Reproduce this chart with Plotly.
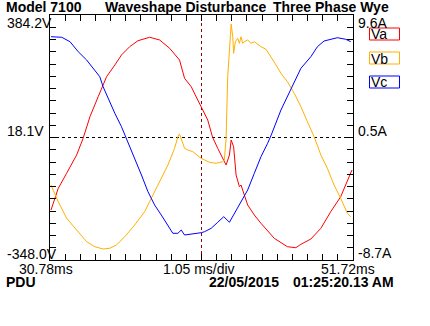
import plotly.graph_objects as go

# ---- data (time in ms, voltage in V) ----
x_min, x_max = 30.78, 51.72
y_min, y_max = -348.0, 384.2
y_mid = 18.1

va_t = [30.85, 31.35, 31.93, 32.62, 33.07, 33.54, 34.11, 34.69, 35.26, 35.72, 36.29, 36.86,
        37.67, 38.36, 39.05, 39.73, 40.08, 40.54, 40.99, 41.18, 41.34, 41.68, 42.01, 42.37,
        42.72, 42.95, 43.18, 43.30, 43.47, 43.64, 43.87, 43.98, 44.44, 44.90, 45.36, 46.28,
        47.19, 47.77, 48.12, 48.81, 49.50, 50.18, 50.87, 51.44, 51.65]
va_v = [-198.6, -133.7, -88.9, -34.2, 15.7, 80.3, 140.0, 199.8, 234.8, 264.7, 289.5, 307.4,
        317.6, 309.5, 284.7, 249.7, 195.0, 169.9, 130.2, 115.2, 100.3, 70.4, 19.6, -14.2,
        -44.1, -64.1, -34.2, 10.6, -9.4, -94.0, -128.9, -123.9, -183.6, -213.5, -238.3, -283.2,
        -308.3, -311.2, -301.1, -285.2, -253.3, -203.7, -158.8, -103.8, -79.0]

vb_t = [30.85, 31.35, 31.93, 32.62, 33.31, 33.88, 34.45, 34.91, 35.37, 35.95, 36.63, 37.32,
        37.79, 38.36, 38.93, 39.39, 39.62, 39.73, 39.85, 40.08, 40.31, 40.65, 41.23, 41.80,
        42.26, 42.72, 42.83, 42.95, 43.06, 43.18, 43.30, 43.41, 43.47, 43.59, 43.75, 43.87,
        43.98, 44.10, 44.21, 44.44, 44.67, 44.90, 45.36, 45.71, 46.05, 46.40, 46.74, 47.19,
        47.66, 48.12, 48.57, 49.03, 49.50, 49.95, 50.41, 50.87, 51.33, 51.56]
vb_v = [-123.9, -173.8, -223.4, -258.3, -293.3, -308.3, -315.1, -313.0, -303.2, -278.4, -243.4, -203.7,
        -163.6, -114.0, -64.1, -14.2, 20.5, 28.6, 15.7, -14.2, -19.3, -24.3, -44.1, -56.0,
        -59.0, -54.2, -49.1, 16.6, 199.8, 299.6, 357.3, 319.3, 269.7, 304.4, 314.6, 299.6,
        319.3, 299.6, 304.4, 309.5, 299.6, 304.4, 289.5, 281.7, 259.6, 234.8, 210.0, 184.9,
        150.2, 110.1, 65.3, 20.5, -34.2, -74.0, -123.9, -163.6, -208.4, -218.6]

vc_t = [30.85, 31.59, 32.16, 32.73, 33.31, 33.88, 34.22, 34.45, 34.80, 35.26, 35.72, 36.06,
        36.52, 37.10, 37.55, 38.01, 38.47, 38.93, 39.27, 39.62, 39.85, 40.08, 40.54, 41.23,
        41.46, 41.92, 42.37, 42.79, 43.18, 43.52, 43.98, 44.44, 44.90, 45.36, 45.82, 46.07,
        46.74, 47.43, 48.12, 48.81, 49.26, 49.72, 50.64, 51.22, 51.56]
vc_v = [319.3, 317.6, 304.4, 274.5, 249.7, 219.8, 199.8, 169.9, 135.3, 90.4, 50.4, 15.7,
        -34.2, -94.0, -143.9, -183.6, -213.5, -243.4, -268.2, -268.2, -258.3, -273.3, -271.2, -266.4,
        -263.4, -253.3, -235.3, -218.6, -235.3, -208.4, -173.8, -138.8, -88.9, -39.3, 0.8, 25.6,
        100.3, 165.1, 224.9, 259.6, 289.5, 306.5, 316.4, 311.6, 304.4]

series_names = ["Va", "Vb", "Vc"]
series_colors = ["#ff0000", "#ffb000", "#0000ff"]

left_labels = ["384.2V", "18.1V", "-348.0V"]
right_labels = ["9.6A", "0.5A", "-8.7A"]
title_parts = ["Model 7100", "Waveshape Disturbance", "Three Phase Wye"]
bottom_labels = ["30.78ms", "1.05 ms/div", "51.72ms"]
footer_parts = ["PDU", "22/05/2015", "01:25:20.13 AM"]

# ---- layout geometry (pixels) ----
WID, HGT = 430, 326
L, R, T, B = 50, 353, 15, 260
PW, PH = R - L, B - T
FONT = "Liberation Sans, Arial, sans-serif"


def px(x):
    return (x - L) / PW


def py(y):
    return (B - y) / PH


fig = go.Figure()
for t, v, name, col in zip([va_t, vb_t, vc_t], [va_v, vb_v, vc_v], series_names, series_colors):
    fig.add_trace(go.Scatter(x=t, y=v, mode="lines", name=name,
                             line=dict(color=col, width=1), hoverinfo="skip", showlegend=False))

annotations = []


def label(text, x, baseline, bold=False, size=14):
    annotations.append(dict(
        text=f"<b>{text}</b>" if bold else text,
        xref="paper", yref="paper", x=px(x), y=py(baseline + 3.5),
        xanchor="left", yanchor="bottom", showarrow=False, borderpad=0,
        font=dict(family=FONT, size=size, color="black"),
    ))


# title
for txt, x in zip(title_parts, [5, 104, 272]):
    label(txt, x, 13, bold=True)
# left axis labels
for txt, yb in zip(left_labels, [28, 136, 259]):
    label(txt, 6, yb)
# right axis labels
for txt, yb in zip(right_labels, [28, 136, 258]):
    label(txt, 357, yb)
# bottom axis labels
for txt, x in zip(bottom_labels, [18, 162, 320]):
    label(txt, x, 274)
# footer
for txt, x in zip(footer_parts, [5, 208, 292]):
    label(txt, x, 287, bold=True)

shapes = [
    dict(type="line", xref="x", yref="y", x0=(x_min + x_max) / 2, x1=(x_min + x_max) / 2,
         y0=y_min, y1=y_max, line=dict(color="#8b0000", width=1, dash="dot"), layer="below"),
    dict(type="line", xref="x", yref="y", x0=x_min, x1=x_max, y0=y_mid, y1=y_mid,
         line=dict(color="black", width=1, dash="dot"), layer="below"),
]

# legend boxes
for i, (name, col) in enumerate(zip(series_names, series_colors)):
    top = 28 + 24 * i
    shapes.append(dict(type="rect", xref="paper", yref="paper",
                       x0=px(369.5), x1=px(399.5), y0=py(top + 12), y1=py(top),
                       line=dict(color=col, width=1), fillcolor="white"))
    label(name, 370, top + 12)

fig.update_layout(
    width=WID, height=HGT,
    margin=dict(l=L, r=WID - R, t=T, b=HGT - B, pad=0),
    paper_bgcolor="white", plot_bgcolor="white",
    showlegend=False,
    annotations=annotations, shapes=shapes,
    xaxis=dict(range=[x_min, x_max], tickmode="linear", tick0=x_min, dtick=(x_max - x_min) / 20,
               ticks="inside", ticklen=6, tickcolor="black", tickwidth=1,
               showline=True, linecolor="black", linewidth=1, mirror="ticks",
               showgrid=False, zeroline=False, showticklabels=False, fixedrange=True),
    yaxis=dict(range=[y_min, y_max], tickmode="linear", tick0=y_min, dtick=(y_max - y_min) / 20,
               ticks="inside", ticklen=6, tickcolor="black", tickwidth=1,
               showline=True, linecolor="black", linewidth=1, mirror="ticks",
               showgrid=False, zeroline=False, showticklabels=False, fixedrange=True),
)

fig.write_html("out.html", config={"displayModeBar": False})
